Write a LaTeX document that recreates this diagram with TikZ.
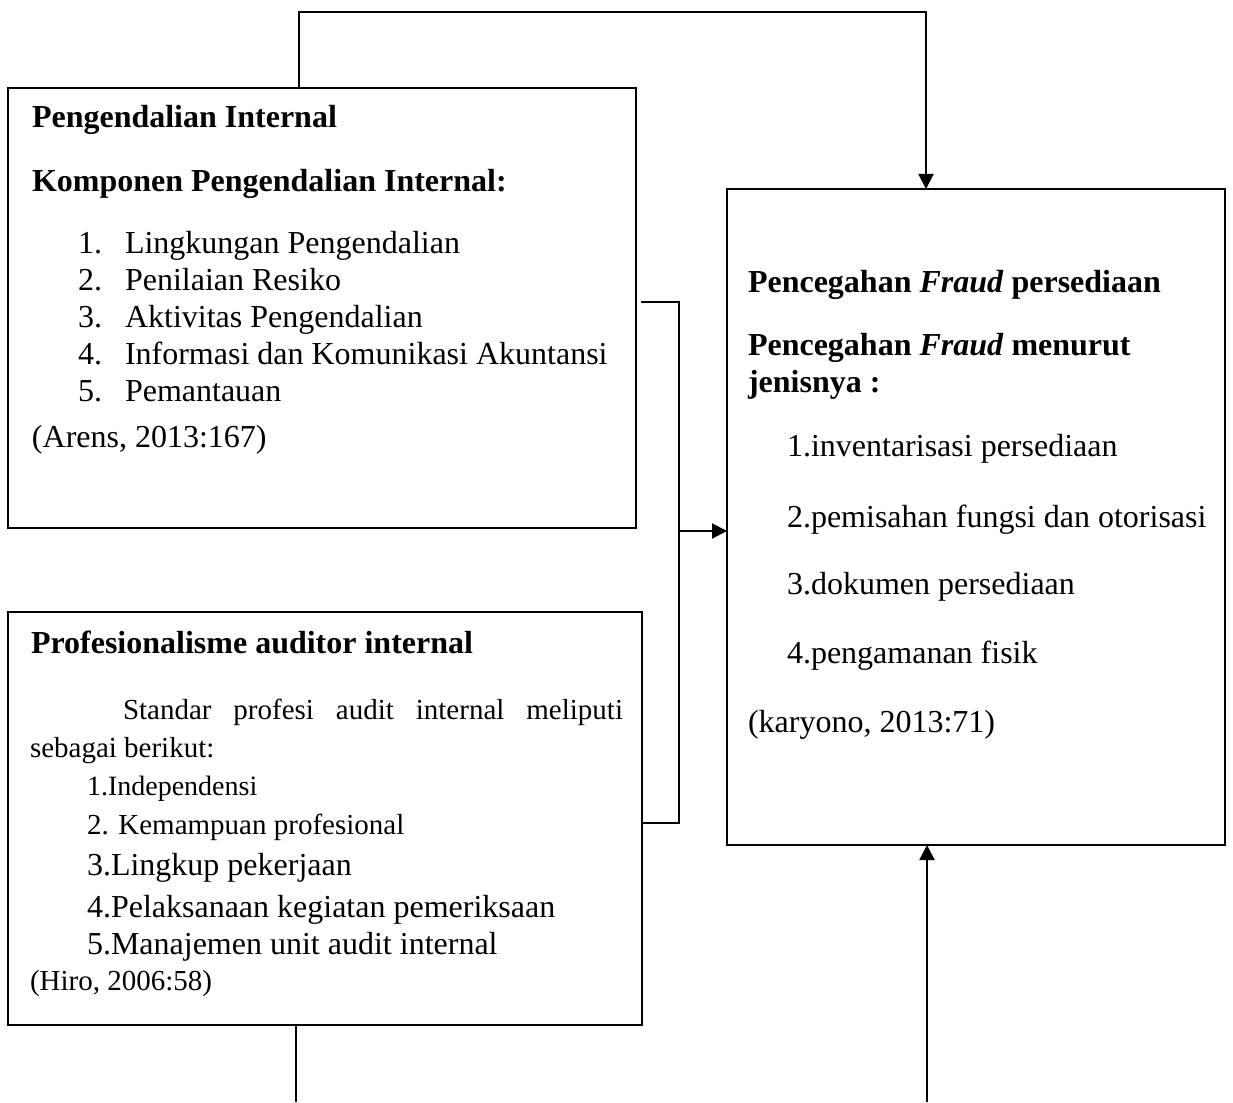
\documentclass[tikz,border=0pt]{standalone}
\usepackage{fontspec}
\setmainfont{Liberation Serif}
\usetikzlibrary{arrows.meta}
\newcommand\fsz[1]{\fontsize{#1}{#1}\selectfont}
\begin{document}
\begin{tikzpicture}[x=1pt,y=-1pt]
\tikzset{
  box/.style={draw, line width=2pt, anchor=north west, inner sep=0pt, outer sep=0pt},
  txt/.style={anchor=base west, inner sep=0pt, outer sep=0pt, font=\fsz{32}},
  conn/.style={line width=2pt},
  arr/.style={conn, -{Triangle[length=15pt,width=15pt]}},
}
\useasboundingbox (0,0) rectangle (1233,1102);
\fill[white] (0,0) rectangle (1233,1102);
% boxes
\node[box, minimum width=628pt, minimum height=440pt] (boxA) at (8,88) {};
\node[box, minimum width=634pt, minimum height=413pt] (boxB) at (8,612) {};
\node[box, minimum width=498pt, minimum height=656pt] (boxC) at (727,189) {};
% box A text
\node[txt] (a1) at (32,128) {\textbf{Pengendalian Internal}};
\node[txt] (a2) at (32,192) {\textbf{Komponen Pengendalian Internal:}};
\node[txt] (a3n) at (78,253) {1.};
\node[txt] (a3) at (125,253) {Lingkungan Pengendalian};
\node[txt] (a4n) at (78,290) {2.};
\node[txt] (a4) at (125,290) {Penilaian Resiko};
\node[txt] (a5n) at (78,327) {3.};
\node[txt] (a5) at (125,327) {Aktivitas Pengendalian};
\node[txt] (a6n) at (78,364) {4.};
\node[txt] (a6) at (125,364) {Informasi dan Komunikasi Akuntansi};
\node[txt] (a7n) at (78,401) {5.};
\node[txt] (a7) at (125,401) {Pemantauan};
\node[txt] (a8) at (8,447) {\hspace*{24pt}(Arens, 2013:167)};
% box B text
\node[txt] (b1) at (31,653) {\textbf{Profesionalisme auditor internal}};
\node[txt, font=\fsz{29}] (b2) at (123,719) {\makebox[500pt][s]{Standar profesi audit internal meliputi}};
\node[txt, font=\fsz{29}] (b3) at (8,757) {\hspace*{22pt}sebagai berikut:};
\node[txt, font=\fsz{28}] (b4) at (87,795) {1.Independensi};
\node[txt, font=\fsz{29}] (b5) at (87,834) {2. Kemampuan profesional};
\node[txt] (b6) at (87,875) {3.Lingkup pekerjaan};
\node[txt] (b7) at (87,917) {4.Pelaksanaan kegiatan pemeriksaan};
\node[txt] (b8) at (87,954) {5.Manajemen unit audit internal};
\node[txt, font=\fsz{29}] (b9) at (8,990) {\hspace*{22pt}(Hiro, 2006:58)};
% box C text
\node[txt] (c1) at (748,292) {\textbf{Pencegahan \textit{Fraud} persediaan}};
\node[txt] (c2) at (748,355) {\textbf{Pencegahan \textit{Fraud} menurut}};
\node[txt] (c3) at (748,392) {\textbf{jenisnya :}};
\node[txt] (c4) at (787,456) {1.inventarisasi persediaan};
\node[txt] (c5) at (787,527) {2.pemisahan fungsi dan otorisasi};
\node[txt] (c6) at (787,594) {3.dokumen persediaan};
\node[txt] (c7) at (787,663) {4.pengamanan fisik};
\node[txt] (c8) at (748,732) {(karyono, 2013:71)};
% connectors
\coordinate (t1) at (299,12);
\coordinate (t2) at (926,12);
\draw[arr] (t1 |- boxA.north) -- (t1) -- (t2) -- (t2 |- boxC.north);
\coordinate (k1) at (679,302);
\coordinate (k2) at (679,823);
\coordinate (km) at (679,531);
\draw[conn] ([xshift=5pt]boxA.east |- k1) -- (k1) -- (k2) -- (boxB.east |- k2);
\draw[arr] (km) -- (km -| boxC.west);
\coordinate (bl) at (296,1102);
\draw[conn] (bl |- boxB.south) -- (bl);
\coordinate (br) at (927,1102);
\draw[arr] (br) -- (br |- boxC.south);
\end{tikzpicture}
\end{document}
